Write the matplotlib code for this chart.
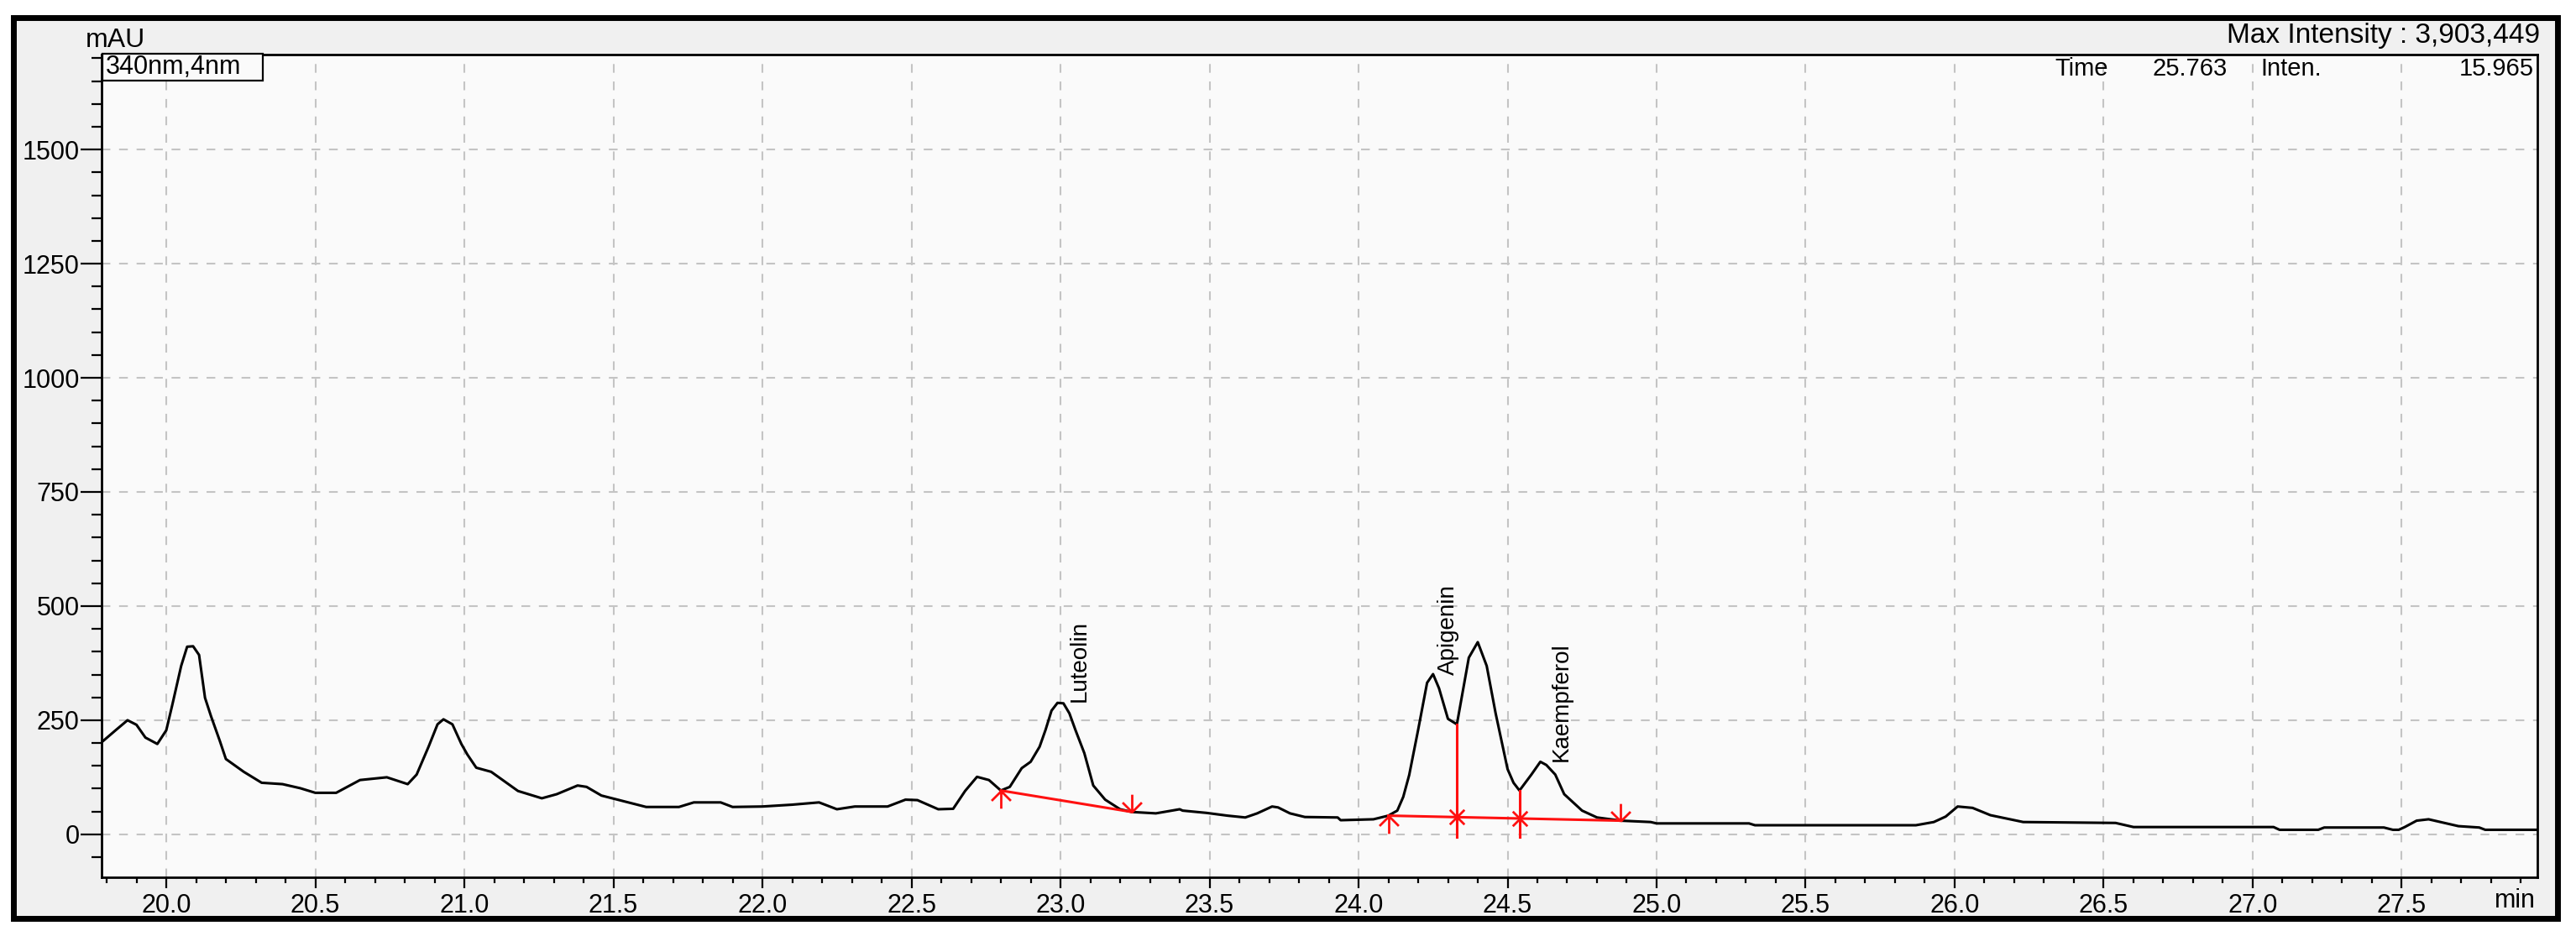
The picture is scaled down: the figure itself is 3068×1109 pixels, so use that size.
import numpy as np
import matplotlib.pyplot as plt
from matplotlib.patches import Rectangle
from matplotlib.path import Path
from matplotlib.ticker import MultipleLocator, FormatStrFormatter

plt.rcParams['font.family'] = ['Liberation Sans', 'DejaVu Sans']

# chromatogram trace (min, mAU)
time = [19.78, 19.83, 19.87, 19.90, 19.93, 19.97, 20.00, 20.02, 20.05, 20.07,
        20.09, 20.11, 20.13, 20.15, 20.18, 20.20, 20.26, 20.32, 20.39, 20.45,
        20.50, 20.57, 20.65, 20.74, 20.81, 20.84, 20.88, 20.91, 20.93, 20.96,
        20.99, 21.01, 21.04, 21.09, 21.18, 21.26, 21.31, 21.38, 21.41, 21.46,
        21.52, 21.61, 21.72, 21.77, 21.86, 21.90, 22.00, 22.10, 22.19, 22.25,
        22.31, 22.42, 22.48, 22.52, 22.59, 22.64, 22.68, 22.72, 22.76, 22.80,
        22.83, 22.87, 22.90, 22.93, 22.95, 22.97, 22.99, 23.01, 23.03, 23.05,
        23.08, 23.11, 23.15, 23.20, 23.24, 23.32, 23.40, 23.41, 23.49, 23.56,
        23.62, 23.66, 23.71, 23.73, 23.77, 23.82, 23.93, 23.94, 24.05, 24.10,
        24.13, 24.15, 24.17, 24.20, 24.23, 24.25, 24.27, 24.30, 24.33, 24.35,
        24.37, 24.40, 24.43, 24.46, 24.50, 24.52, 24.54, 24.58, 24.61, 24.63,
        24.66, 24.69, 24.75, 24.80, 24.88, 24.98, 25.00, 25.31, 25.33, 25.87,
        25.93, 25.97, 26.01, 26.06, 26.12, 26.23, 26.54, 26.60, 27.07, 27.09,
        27.22, 27.24, 27.44, 27.47, 27.49, 27.51, 27.55, 27.59, 27.63, 27.69,
        27.76, 27.78, 27.96]
mau = [200, 228, 250, 240, 212, 198, 228, 283, 369, 411,
       412, 393, 299, 259, 204, 165, 137, 113, 110, 101,
       91, 91, 119, 125, 110, 131, 192, 241, 252, 241,
       198, 175, 146, 137, 95, 79, 88, 107, 104, 85,
       75, 60, 60, 70, 70, 60, 61, 65, 70, 55,
       61, 61, 76, 75, 55, 56, 95, 126, 119, 96,
       104, 145, 159, 192, 229, 271, 288, 287, 265, 229,
       178, 107, 76, 55, 49, 46, 55, 52, 47, 41,
       37, 46, 61, 59, 46, 38, 37, 31, 33, 41,
       52, 82, 130, 229, 332, 351, 320, 253, 241, 314,
       387, 421, 369, 265, 143, 113, 96, 131, 159, 152,
       131, 88, 52, 37, 30, 27, 24, 24, 20, 20,
       27, 39, 61, 58, 42, 27, 25, 16, 16, 10,
       10, 15, 15, 10, 10, 16, 30, 33, 27, 18,
       15, 10, 10]

# integration baselines
lut_base_t = [22.80, 23.24]
lut_base_v = [96, 49]
api_base_t = [24.10, 24.88]
api_base_v = [41, 30]
# peak split points (time, height at trace)
split_t = [24.33, 24.54]
split_v = [241, 96]

# peak labels
peak_names = ['Luteolin', 'Apigenin', 'Kaempferol']
peak_label_t = [23.065, 24.30, 24.68]
peak_label_v = [290, 350, 160]

W, H = 3068, 1109
fig = plt.figure(figsize=(W / 100, H / 100), dpi=100, facecolor='white')

# outer black frame
fig.patches.append(Rectangle((16 / W, 1 - 1094 / H), 3030 / W, 1073 / H,
                             transform=fig.transFigure, facecolor='#f0f0f0',
                             edgecolor='black', linewidth=5, zorder=-10))

ax = fig.add_axes([121 / W, 1 - 1045 / H, 2901 / W, 980 / H])
ax.set_facecolor('#fafafa')

ax.plot(time, mau, color='black', linewidth=2.2, zorder=3)

red = '#ff1010'
start_mk = Path([(0, 0), (0, -1), (0, 0), (-0.55, -0.55), (0, 0), (0.55, -0.55)],
                [Path.MOVETO, Path.LINETO, Path.MOVETO, Path.LINETO, Path.MOVETO, Path.LINETO])
end_mk = Path([(0, 0), (0, 1), (0, 0), (-0.55, 0.55), (0, 0), (0.55, 0.55)],
              [Path.MOVETO, Path.LINETO, Path.MOVETO, Path.LINETO, Path.MOVETO, Path.LINETO])
star_mk = Path([(-0.7, -0.7), (0.7, 0.7), (-0.7, 0.7), (0.7, -0.7), (0, -1), (0, 1)],
               [Path.MOVETO, Path.LINETO, Path.MOVETO, Path.LINETO, Path.MOVETO, Path.LINETO])

for bt, bv in [(lut_base_t, lut_base_v), (api_base_t, api_base_v)]:
    ax.plot(bt, bv, color=red, linewidth=2.2, zorder=4)
    ax.plot(bt[0], bv[0], marker=start_mk, markersize=30, mec=red, mew=2, zorder=5)
    ax.plot(bt[1], bv[1], marker=end_mk, markersize=30, mec=red, mew=2, zorder=5)

for st, sv in zip(split_t, split_v):
    base = np.interp(st, api_base_t, api_base_v)
    ax.plot([st, st], [sv, -5], color=red, linewidth=2.2, zorder=4)
    ax.plot(st, base, marker=star_mk, markersize=18, mec=red, mew=2, zorder=5)

for name, lt, lv in zip(peak_names, peak_label_t, peak_label_v):
    ax.text(lt, lv, name, rotation=90, ha='center', va='bottom', fontsize=20,
            color='black', zorder=6)

ax.set_xlim(19.783, 27.955)
ax.set_ylim(-94, 1708)
ax.xaxis.set_major_locator(MultipleLocator(0.5))
ax.xaxis.set_minor_locator(MultipleLocator(0.1))
ax.xaxis.set_major_formatter(FormatStrFormatter('%.1f'))
ax.yaxis.set_major_locator(MultipleLocator(250))
ax.yaxis.set_minor_locator(MultipleLocator(50))

ax.tick_params(axis='x', which='major', length=9, width=1.6, pad=5, labelsize=22)
ax.tick_params(axis='x', which='minor', length=5, width=1.6)
ax.tick_params(axis='y', which='major', length=18, width=1.6, pad=1, labelsize=22)
ax.tick_params(axis='y', which='minor', length=9, width=1.6)

ax.grid(True, which='major', color='#c4c4c4', linestyle=(0, (5, 5)), linewidth=1.5)
ax.set_axisbelow(True)
for s in ax.spines.values():
    s.set_linewidth(2)

# header texts
fig.text(102 / W, 1 - 48 / H, 'mAU', fontsize=23, ha='left', va='center')
fig.text(3025 / W, 1 - 43 / H, 'Max Intensity : 3,903,449', fontsize=24, ha='right', va='center')
fig.text(2447 / W, 1 - 82 / H, 'Time', fontsize=21, ha='left', va='center', zorder=10)
fig.text(2653 / W, 1 - 82 / H, '25.763', fontsize=21, ha='right', va='center', zorder=10)
fig.text(2692 / W, 1 - 82 / H, 'Inten.', fontsize=21, ha='left', va='center', zorder=10)
fig.text(3018 / W, 1 - 82 / H, '15.965', fontsize=21, ha='right', va='center', zorder=10)
fig.text(3020 / W, 1 - 1073 / H, 'min', fontsize=22, ha='right', va='center')

fig.patches.append(Rectangle((122 / W, 1 - 96 / H), 191 / W, 32 / H,
                             transform=fig.transFigure, facecolor='#fafafa',
                             edgecolor='black', linewidth=1.6, zorder=5))
fig.text(126 / W, 1 - 80 / H, '340nm,4nm', fontsize=22, ha='left', va='center', zorder=6)

plt.savefig('out.png', dpi=100, facecolor=fig.get_facecolor())
